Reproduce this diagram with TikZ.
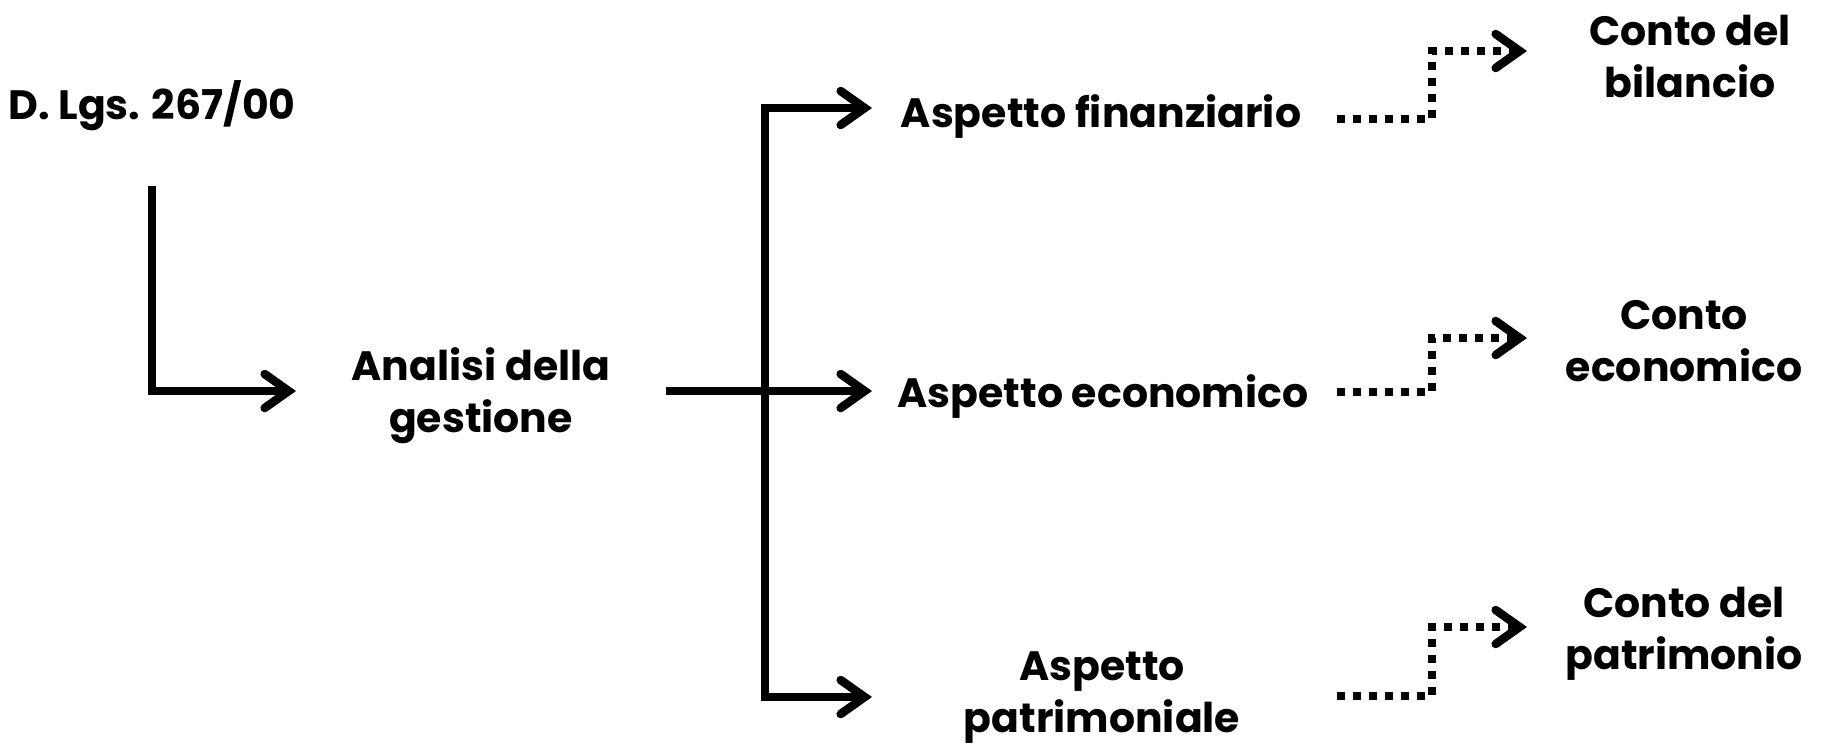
\documentclass[tikz,border=0pt]{standalone}
\usepackage{fontspec}
\setmainfont{Poppins}
\usetikzlibrary{arrows.meta}
\tikzset{
  lbl/.style={font=\fontsize{41}{52}\selectfont\bfseries, align=center, inner sep=0pt},
  arr/.style={line width=7.5pt, -{Straight Barb[length=24pt,width=34pt,line cap=round,line width=8.5pt]}},
  dotarr/.style={line width=8pt, dash pattern=on 8pt off 8pt, -{Straight Barb[length=24pt,width=34pt,line cap=round,line width=8.5pt]}},
}
\begin{document}
\begin{tikzpicture}[x=1pt,y=-1pt]
\useasboundingbox (0,0) rectangle (1825,745);
% labels
\node[lbl] (dlgs) at (152,106) {D. Lgs. 267/00};
\node[lbl] (analisi) at (481,396) {Analisi della\\gestione};
\node[lbl] (fin) at (1101,117) {Aspetto finanziario};
\node[lbl] (eco) at (1103,397) {Aspetto economico};
\node[lbl] (pat) at (1102,698) {Aspetto\\patrimoniale};
\node[lbl] (cdb) at (1690,56) {Conto del\\bilancio};
\node[lbl] (ce) at (1684,341) {Conto\\economico};
\node[lbl] (cdp) at (1684,634) {Conto del\\patrimonio};
% anchor points
\coordinate (d0) at (152,186);
\coordinate (a0) at (296,391);
\coordinate (a1) at (666,391);
\coordinate (tr) at (765,391);
\coordinate (f0) at (872,108);
\coordinate (e0) at (872,391);
\coordinate (p0) at (872,697);
\coordinate (fs) at (1337,119);
\coordinate (fc) at (1432,51);
\coordinate (ft) at (1527,51);
\coordinate (es) at (1337,392);
\coordinate (ec) at (1432,338);
\coordinate (et) at (1527,338);
\coordinate (ps) at (1337,696);
\coordinate (pc) at (1432,627);
\coordinate (pt) at (1527,627);
% connectors
\draw[arr] (d0) |- (a0);
\draw[arr] (a1) -- (e0);
\draw[arr, line join=miter] (tr) |- (f0);
\draw[arr, line join=miter] (tr) |- (p0);
\draw[dotarr] (fs) -| (fc) -- (ft);
\draw[dotarr] (es) -| (ec) -- (et);
\draw[dotarr] (ps) -| (pc) -- (pt);
\end{tikzpicture}
\end{document}
